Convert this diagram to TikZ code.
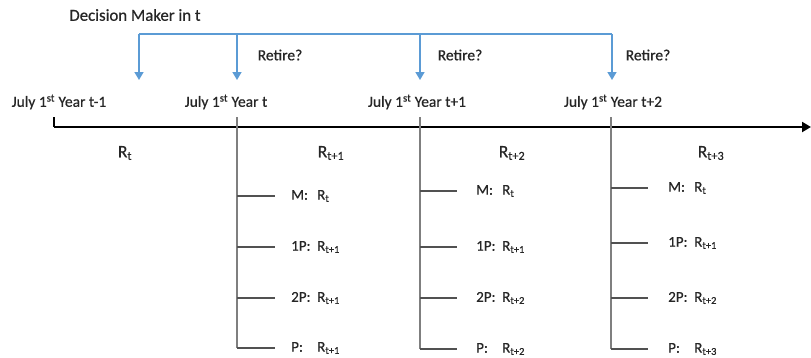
\documentclass[tikz,border=0pt]{standalone}
\usepackage{fontspec}
\setmainfont[FakeBold=0.4,AutoFakeBold=0.4]{Carlito}
\newfontfamily\heavy[FakeBold=0.6]{Carlito}
\usetikzlibrary{arrows.meta}
\definecolor{arrowblue}{HTML}{5B9BD5}
\definecolor{txt}{HTML}{262626}
\definecolor{vline}{HTML}{7F7F7F}
\newcommand{\Rs}[1]{R\textsubscript{#1}}
\newcommand{\pre}[1]{\makebox[26pt][l]{#1}}
\begin{document}
\begin{tikzpicture}[x=1pt,y=-1pt,
  lbl/.style={font=\heavy\fontsize{15.5}{18}\selectfont, text=txt, inner sep=0pt},
  toplbl/.style={font=\heavy\fontsize{16.8}{19}\selectfont, text=txt, inner sep=0pt},
  rlbl/.style={font=\heavy\fontsize{17.5}{20}\selectfont, text=txt, inner sep=0pt},
  brl/.style={font=\heavy\fontsize{15}{18}\selectfont, text=txt, inner sep=0pt, anchor=west},
  blueline/.style={draw=arrowblue, line width=1.5pt},
  bluearrow/.style={draw=arrowblue, line width=1.5pt, -{Triangle[width=9pt,length=8pt]}},
  axisline/.style={draw=black, line width=2pt, -{Triangle[width=10pt,length=9pt]}},
  tickline/.style={draw=black, line width=1.5pt},
  vertline/.style={draw=vline, line width=1.6pt},
  branch/.style={draw=txt!80, line width=1.1pt}]
\useasboundingbox (0,0) rectangle (811,357);
% top decision maker
\node[toplbl] (dm) at (135,15) {Decision Maker in t};
\coordinate (b1) at (139,34);
\coordinate (b2) at (237,34);
\coordinate (b3) at (420,34);
\coordinate (b4) at (612,34);
\coordinate (e1) at (139,80);
\coordinate (e2) at (237,80);
\coordinate (e3) at (420,80);
\coordinate (e4) at (612,80);
\draw[blueline] (b1) -- (b4);
\draw[bluearrow] (b1) -- (e1);
\draw[bluearrow] (b2) -- (e2);
\draw[bluearrow] (b3) -- (e3);
\draw[bluearrow] (b4) -- (e4);
\node[lbl] (r1) at (280,55) {Retire?};
\node[lbl] (r2) at (460,55) {Retire?};
\node[lbl] (r3) at (648,55) {Retire?};
% dates
\node[lbl] (d0) at (59,102) {July 1\textsuperscript{st} Year t-1};
\node[lbl] (d1) at (226,102) {July 1\textsuperscript{st} Year t};
\node[lbl] (d2) at (417,102) {July 1\textsuperscript{st} Year t+1};
\node[lbl] (d3) at (613,102) {July 1\textsuperscript{st} Year t+2};
% axis
\coordinate (a0) at (54,127);
\coordinate (a1) at (811,127);
\coordinate (k0) at (54,117);
\draw[axisline] (a0) -- (a1);
\draw[tickline] (k0) -- (a0);
% R labels
\node[rlbl] (R0) at (125,153) {\Rs{t}};
\node[rlbl] (R1) at (331,153) {\Rs{t+1}};
\node[rlbl] (R2) at (512,153) {\Rs{t+2}};
\node[rlbl] (R3) at (711,153) {\Rs{t+3}};
% column 1
\coordinate (v1t) at (237,117);
\coordinate (v1b) at (237,348);
\draw[vertline] (v1t) -- (v1b);
\coordinate (c1a) at (237,196); \coordinate (c1b) at (237,247);
\coordinate (c1c) at (237,298);
\node[brl] (m1) at (291,196) {\pre{M:}\Rs{t}};
\node[brl] (p11) at (291,247) {\pre{1P:}\Rs{t+1}};
\node[brl] (p21) at (291,298) {\pre{2P:}\Rs{t+1}};
\node[brl] (pp1) at (291,348) {\pre{P:}\Rs{t+1}};
\draw[branch] (c1a) -- ++(38,0);
\draw[branch] (c1b) -- ++(38,0);
\draw[branch] (c1c) -- ++(38,0);
\draw[branch] (v1b) -- ++(38,0);
% column 2
\coordinate (v2t) at (420,117);
\coordinate (v2b) at (420,349);
\draw[vertline] (v2t) -- (v2b);
\coordinate (c2a) at (420,191); \coordinate (c2b) at (420,247);
\coordinate (c2c) at (420,298);
\node[brl] (m2) at (476,191) {\pre{M:}\Rs{t}};
\node[brl] (p12) at (476,247) {\pre{1P:}\Rs{t+1}};
\node[brl] (p22) at (476,298) {\pre{2P:}\Rs{t+2}};
\node[brl] (pp2) at (476,349) {\pre{P:}\Rs{t+2}};
\draw[branch] (c2a) -- ++(37,0);
\draw[branch] (c2b) -- ++(37,0);
\draw[branch] (c2c) -- ++(37,0);
\draw[branch] (v2b) -- ++(37,0);
% column 3
\coordinate (v3t) at (611,117);
\coordinate (v3b) at (611,349);
\draw[vertline] (v3t) -- (v3b);
\coordinate (c3a) at (611,188); \coordinate (c3b) at (611,243);
\coordinate (c3c) at (611,298);
\node[brl] (m3) at (668,188) {\pre{M:}\Rs{t}};
\node[brl] (p13) at (668,243) {\pre{1P:}\Rs{t+1}};
\node[brl] (p23) at (668,298) {\pre{2P:}\Rs{t+2}};
\node[brl] (pp3) at (668,349) {\pre{P:}\Rs{t+3}};
\draw[branch] (c3a) -- ++(37,0);
\draw[branch] (c3b) -- ++(37,0);
\draw[branch] (c3c) -- ++(37,0);
\draw[branch] (v3b) -- ++(37,0);
\end{tikzpicture}
\end{document}
